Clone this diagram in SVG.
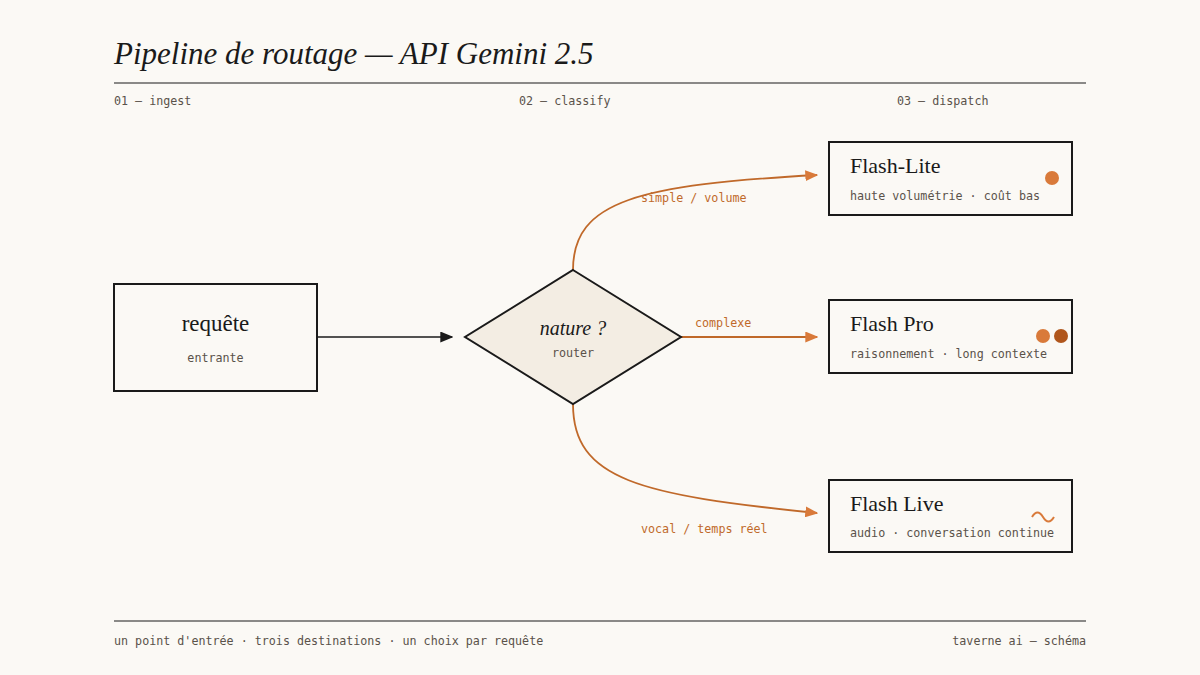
<svg xmlns="http://www.w3.org/2000/svg" width="1200" height="675" viewBox="0 0 1200 675">
<defs>
<style>
.serif{font-family:"Liberation Serif","DejaVu Serif",serif;fill:#1a1a1a}
.mono{font-family:"DejaVu Sans Mono","Liberation Mono",monospace;font-size:11.7px;fill:#5a524a}
.or{fill:#c0692a}
.box{fill:#fbf9f5;stroke:#1a1a1a;stroke-width:2}
.line{stroke:#1a1a1a;stroke-width:1.2}
.conn{fill:none;stroke:#c0692a;stroke-width:1.8}
</style>
<marker id="ao" viewBox="0 0 10 10" refX="9" refY="5" markerWidth="13" markerHeight="11" orient="auto" markerUnits="userSpaceOnUse" preserveAspectRatio="none"><path d="M0,0L10,5L0,10z" fill="#d97a3a"/></marker>
<marker id="ak" viewBox="0 0 10 10" refX="9" refY="5" markerWidth="13" markerHeight="11" orient="auto" markerUnits="userSpaceOnUse" preserveAspectRatio="none"><path d="M0,0L10,5L0,10z" fill="#1a1a1a"/></marker>
</defs>
<rect width="1200" height="675" fill="#fbf9f5"/>
<text x="114" y="64" class="serif" font-size="31" font-style="italic">Pipeline de routage — API Gemini 2.5</text>
<line x1="114" y1="83" x2="1086" y2="83" class="line"/>
<text x="114" y="105" class="mono">01 — ingest</text>
<text x="519" y="105" class="mono">02 — classify</text>
<text x="897" y="105" class="mono">03 — dispatch</text>
<g id="connectors">
<line x1="317" y1="337" x2="452" y2="337" stroke="#1a1a1a" stroke-width="1.5" marker-end="url(#ak)"/>
<path d="M573,270 C573,200 640,185 817,175" class="conn" marker-end="url(#ao)"/>
<line x1="681" y1="337" x2="817" y2="337" class="conn" marker-end="url(#ao)"/>
<path d="M573,404 C573,480 640,495 817,513" class="conn" marker-end="url(#ao)"/>
<text x="641" y="202" class="mono or">simple / volume</text>
<text x="695" y="327" class="mono or">complexe</text>
<text x="641" y="533" class="mono or">vocal / temps réel</text>
</g>
<g id="requete">
<rect x="114" y="284" width="203" height="107" class="box"/>
<text x="215.5" y="331" class="serif" font-size="23" text-anchor="middle">requête</text>
<text x="215.5" y="362" class="mono" text-anchor="middle">entrante</text>
</g>
<g id="router">
<polygon points="573,270 681,337 573,404 465,337" fill="#f3ede3" stroke="#1a1a1a" stroke-width="2"/>
<text x="573" y="335" class="serif" font-size="20" font-style="italic" text-anchor="middle">nature ?</text>
<text x="573" y="357" class="mono" font-size="11" text-anchor="middle">router</text>
</g>
<g id="flash-lite">
<rect x="829" y="142" width="243" height="73" class="box"/>
<text x="850" y="173" class="serif" font-size="22">Flash-Lite</text>
<text x="850" y="200" class="mono">haute volumétrie · coût bas</text>
<circle cx="1052" cy="178" r="7" fill="#d97a3a"/>
</g>
<g id="flash-pro">
<rect x="829" y="300" width="243" height="73" class="box"/>
<text x="850" y="331" class="serif" font-size="22">Flash Pro</text>
<text x="850" y="358" class="mono">raisonnement · long contexte</text>
<circle cx="1043" cy="336" r="7" fill="#d97a3a"/>
<circle cx="1061" cy="336" r="7" fill="#b0561c"/>
</g>
<g id="flash-live">
<rect x="829" y="480" width="243" height="72" class="box"/>
<text x="850" y="511" class="serif" font-size="22">Flash Live</text>
<text x="850" y="537" class="mono">audio · conversation continue</text>
<path d="M1032,517 q5.5,-9 11,0 t11,0" fill="none" stroke="#d97a3a" stroke-width="2"/>
</g>
<line x1="114" y1="621" x2="1086" y2="621" class="line"/>
<text x="114" y="645" class="mono">un point d'entrée · trois destinations · un choix par requête</text>
<text x="1086" y="645" class="mono" text-anchor="end">taverne ai — schéma</text>
</svg>
